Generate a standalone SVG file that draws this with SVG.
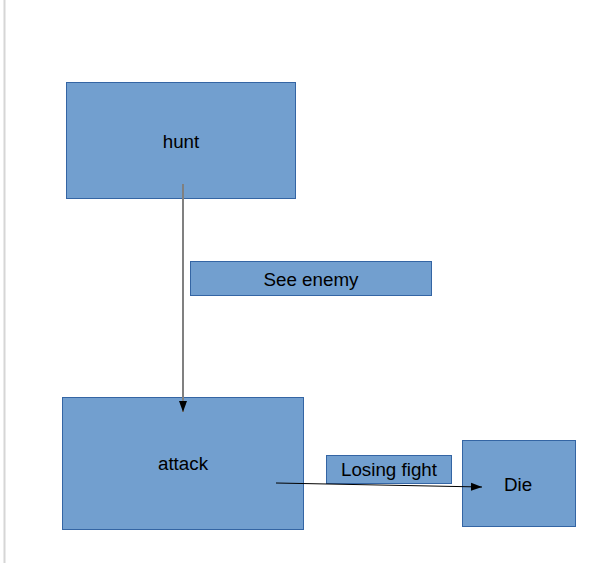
<svg xmlns="http://www.w3.org/2000/svg" width="599" height="563" viewBox="0 0 599 563">
<defs>
<style>
.box{fill:#729fcf;stroke:#3465a4;stroke-width:1}
.t{font-family:"Liberation Sans",Arial,sans-serif;font-size:18.8px;fill:#000;text-anchor:middle;dominant-baseline:central}
</style>
<marker id="ah" markerWidth="12" markerHeight="12" viewBox="0 0 12 12" refX="11" refY="6" orient="auto" markerUnits="userSpaceOnUse">
<path d="M0,2 L11,6 L0,10 Z" fill="#000"/>
</marker>
</defs>
<rect width="599" height="563" fill="#ffffff"/>
<line x1="4.5" y1="0" x2="4.5" y2="563" stroke="#d6d6d6" stroke-width="2"/>
<g id="hunt"><rect class="box" x="66.5" y="82.5" width="229" height="116"/><text class="t" x="181" y="141">hunt</text></g>
<g id="see-enemy"><rect class="box" x="190.5" y="261.5" width="241" height="34"/><text class="t" x="311" y="279">See enemy</text></g>
<g id="attack"><rect class="box" x="62.5" y="397.5" width="241" height="132"/><text class="t" x="183" y="463">attack</text></g>
<g id="losing-fight"><rect class="box" x="326.5" y="455.5" width="125" height="28"/><text class="t" x="389" y="469">Losing fight</text></g>
<g id="die"><rect class="box" x="462.5" y="440.5" width="113" height="86"/><text class="t" x="518" y="484">Die</text></g>
<g id="connectors">
<line x1="183" y1="184" x2="183" y2="412" stroke="#808080" stroke-width="2" marker-end="url(#ah)"/>
<line x1="276" y1="483" x2="482" y2="487" stroke="#000" stroke-width="1" marker-end="url(#ah)"/>
</g>
</svg>
